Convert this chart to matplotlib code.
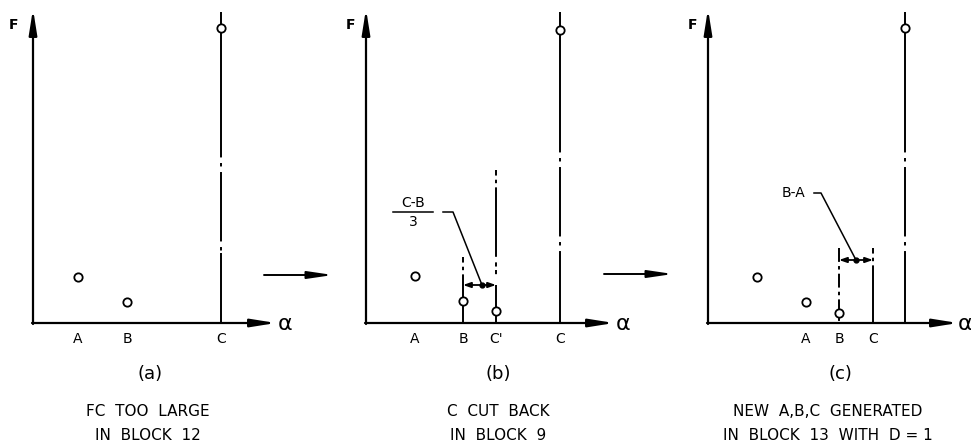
import matplotlib
matplotlib.use("Agg")
import matplotlib.pyplot as plt

plt.rcParams['lines.scale_dashes'] = False
plt.rcParams['font.family'] = ['DejaVu Sans']

# ---------------- data (alpha, F in arbitrary units) ----------------
# panel (a)
a_alpha = [4.5, 9.4, 18.8]
a_F = [4.6, 2.1, 29.5]
a_labels = ['A', 'B', 'C']
# panel (b)
b_alpha = [4.9, 9.7, 13.0, 19.4]
b_F = [4.7, 2.2, 1.2, 29.3]
b_labels = ['A', 'B', "C'", 'C']
# panel (c)
c_alpha = [4.9, 9.8, 13.1, 19.7]
c_F = [4.6, 2.1, 1.0, 29.5]
c_tick_alpha = [9.8, 13.1, 16.5]
c_labels = ['A', 'B', 'C']

panel_tags = ['(a)', '(b)', '(c)']
captions = [['FC  TOO  LARGE', 'IN  BLOCK  12'],
            ['C  CUT  BACK', 'IN  BLOCK  9'],
            ['NEW  A,B,C  GENERATED', 'IN  BLOCK  13  WITH  D = 1']]

# ---------------- layout ----------------
W, H = 971, 443
fig = plt.figure(figsize=(W / 100, H / 100), dpi=100)
fig.patch.set_facecolor('white')

# (left px, width px, origin px)
panels = [(0, 320, 33), (320, 320, 366), (640, 331, 708)]
axes = []
for left, wid, org in panels:
    ax = fig.add_axes([left / W, 0, wid / W, 1])
    lo = -(org - left) / 10
    ax.set_xlim(lo, lo + wid / 10)
    ax.set_ylim(-12.0, 32.3)
    ax.axis('off')
    axes.append(ax)

K = 'black'
DD = (0, (50, 4, 2.5, 4))   # long dash - dot pattern
axis_arrow = dict(arrowstyle='-|>,head_length=1.5,head_width=0.24', mutation_scale=10,
                  lw=1.6, color=K, shrinkA=0, shrinkB=0)
link_arrow = dict(arrowstyle='-|>,head_length=1.5,head_width=0.22', mutation_scale=10,
                  lw=1.4, color=K, shrinkA=0, shrinkB=0)
dim_arrow = dict(arrowstyle='<|-|>,head_length=1.0,head_width=0.35', mutation_scale=4.5,
                 lw=1.3, color=K, shrinkA=0, shrinkB=0)


def draw_axes(ax, xtip, alpha_x, fx):
    ax.annotate('', xy=(0, 31.4), xytext=(0, -0.1), arrowprops=axis_arrow, annotation_clip=False)
    ax.annotate('', xy=(xtip + 0.6, 0), xytext=(-0.1, 0), arrowprops=axis_arrow,
                annotation_clip=False)
    ax.text(alpha_x, -0.1, 'α', fontsize=16, ha='center', va='center')
    ax.text(fx, 29.8, 'F', fontsize=10, ha='center', va='center', fontweight='bold')


def vline(ax, x, y0, y1, ls='-', lw=1.4):
    ax.plot([x, x], [y1, y0], color=K, lw=lw, ls=ls, solid_capstyle='butt', clip_on=False)


def points(ax, xs, ys):
    ax.plot(xs, ys, 'o', ms=6, mfc='white', mec=K, mew=1.3, zorder=5, clip_on=False)


def ticklabels(ax, xs, labels):
    for x, l in zip(xs, labels):
        ax.text(x, -1.6, l, fontsize=10, ha='center', va='center')


def caption(ax, x, tag, lines, xcap):
    ax.text(x, -5.1, tag, fontsize=13, ha='center', va='center')
    ax.text(xcap, -8.9, lines[0], fontsize=11, ha='center', va='center')
    ax.text(xcap, -11.2, lines[1], fontsize=11, ha='center', va='center')


# ---------------- panel (a) ----------------
ax = axes[0]
draw_axes(ax, 23.7, 25.2, -2.0)
vline(ax, a_alpha[2], 0, 7.0)
vline(ax, a_alpha[2], 7.0, 23.5, ls=DD)
vline(ax, a_alpha[2], 23.5, 31.1)
points(ax, a_alpha, a_F)
ticklabels(ax, a_alpha, a_labels)
caption(ax, 11.7, panel_tags[0], captions[0], 11.5)
ax.annotate('', xy=(30.0, 4.8), xytext=(23.1, 4.8), arrowprops=link_arrow, annotation_clip=False)

# ---------------- panel (b) ----------------
ax = axes[1]
draw_axes(ax, 24.2, 25.7, -1.6)
dim_b = 3.8
vline(ax, b_alpha[1], 0, dim_b)
vline(ax, b_alpha[1], dim_b, 6.6, ls=(0, (4, 3, 2.5, 3, 10)))
vline(ax, b_alpha[2], 0, dim_b)
vline(ax, b_alpha[2], dim_b, 15.3, ls=(0, (4, 3, 2.5, 3, 50)))
vline(ax, b_alpha[3], 0, 3.5)
vline(ax, b_alpha[3], 3.5, 24.0, ls=DD)
vline(ax, b_alpha[3], 24.0, 31.1)
ax.annotate('', xy=(b_alpha[2], dim_b), xytext=(b_alpha[1], dim_b), arrowprops=dim_arrow,
            annotation_clip=False)
ax.plot([11.6], [dim_b], 'o', ms=3.5, color=K)
# (C-B)/3 label with leader
ax.text(4.7, 12.0, 'C-B', fontsize=10, ha='center', va='center')
ax.text(4.7, 10.1, '3', fontsize=10, ha='center', va='center')
ax.plot([2.7, 6.7], [11.1, 11.1], color=K, lw=1.1)
ax.plot([7.7, 8.7, 11.6], [11.1, 11.1, dim_b], color=K, lw=1.1)
points(ax, b_alpha, b_F)
ticklabels(ax, b_alpha, b_labels)
caption(ax, 13.2, panel_tags[1], captions[1], 13.2)
ax.annotate('', xy=(30.7, 4.9), xytext=(23.8, 4.9), arrowprops=link_arrow, annotation_clip=False)

# ---------------- panel (c) ----------------
ax = axes[2]
draw_axes(ax, 24.4, 25.7, -1.6)
dim_c = 6.3
top_c = 7.5
vline(ax, c_alpha[2], 0, top_c, ls=(0, (10, 3, 2.5, 3)))
vline(ax, c_tick_alpha[2], 0, 4.3)
vline(ax, c_tick_alpha[2], 4.3, top_c, ls=(0, (4, 3, 2.5, 3, 20)))
vline(ax, c_alpha[3], 0, 3.0)
vline(ax, c_alpha[3], 3.0, 24.0, ls=DD)
vline(ax, c_alpha[3], 24.0, 31.1)
ax.annotate('', xy=(c_tick_alpha[2], dim_c), xytext=(c_alpha[2], dim_c), arrowprops=dim_arrow,
            annotation_clip=False)
ax.plot([14.8], [dim_c], 'o', ms=3.5, color=K)
ax.text(8.5, 13.0, 'B-A', fontsize=10, ha='center', va='center')
ax.plot([10.6, 11.3, 14.8], [13.0, 13.0, dim_c], color=K, lw=1.1)
points(ax, c_alpha, c_F)
ticklabels(ax, c_tick_alpha, c_labels)
caption(ax, 13.2, panel_tags[2], captions[2], 12.0)

fig.savefig('out.png', dpi=100, facecolor='white')
